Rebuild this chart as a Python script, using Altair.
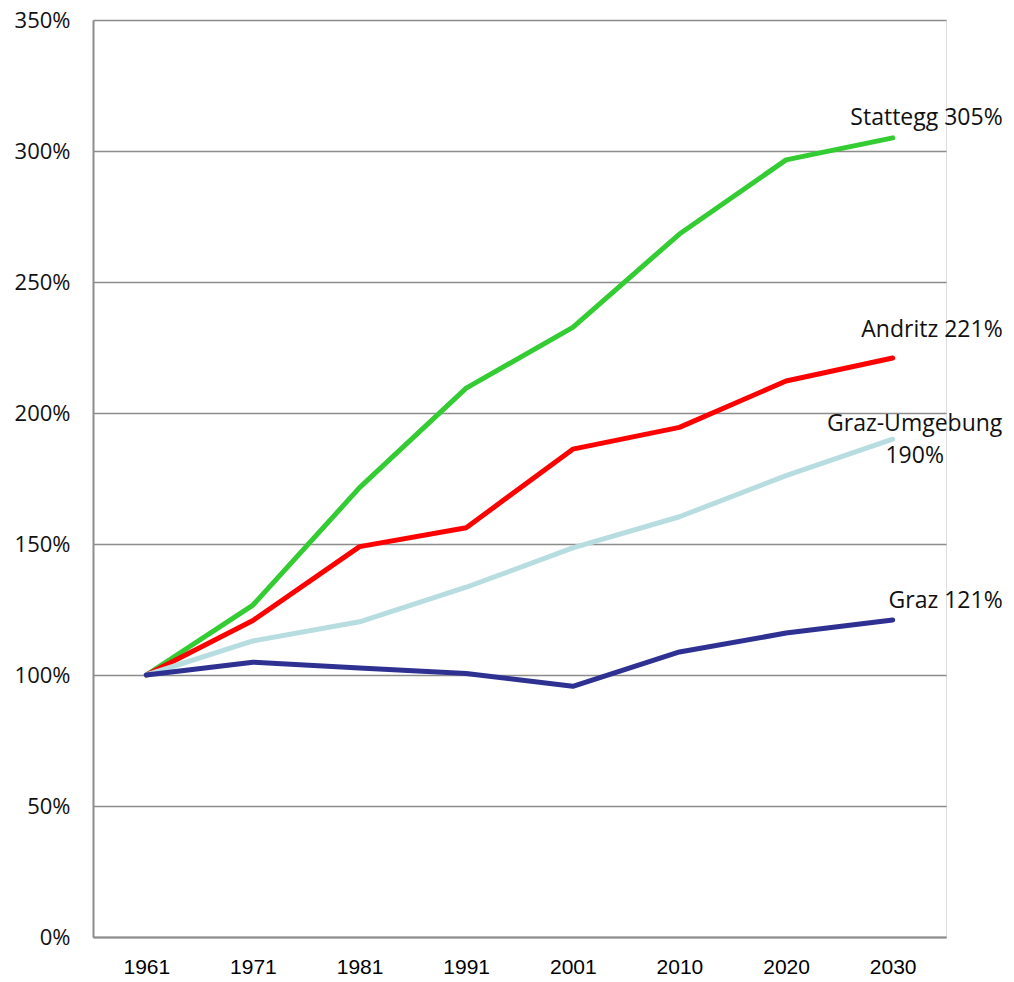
import altair as alt
import pandas as pd

years = ["1961", "1971", "1981", "1991", "2001", "2010", "2020", "2030"]
series_names = ["Stattegg", "Andritz", "Graz-Umgebung", "Graz"]
stattegg = [100, 126.7, 171.5, 209.5, 232.7, 268.3, 296.6, 305]
andritz = [100, 120.8, 149, 156.2, 186.2, 194.5, 212.2, 221]
graz_umg = [100, 113, 120.3, 133.5, 148.5, 160.4, 176.1, 190]
graz = [100, 104.9, 102.7, 100.6, 95.7, 108.8, 116, 121]
colors = ["#33CC33", "#FF0000", "#B7DDE0", "#2E3192"]

end_labels = ["Stattegg 305%", "Andritz 221%", "Graz-Umgebung\n190%", "Graz 121%"]

rows = []
for name, vals in zip(series_names, [stattegg, andritz, graz_umg, graz]):
    for y, v in zip(years, vals):
        rows.append({"year": y, "value": v, "series": name})
df = pd.DataFrame(rows)

lab = pd.DataFrame({
    "year": ["2030"] * 4,
    "value": [stattegg[-1], andritz[-1], graz_umg[-1], graz[-1]],
    "series": series_names,
    "label": end_labels,
})

x_enc = alt.X("year:O", sort=years,
              scale=alt.Scale(type="point", padding=0.5),
              axis=alt.Axis(title=None, labelAngle=0, ticks=False, domain=True,
                            domainColor="#8c8c8c", domainWidth=2,
                            labelFont="Liberation Sans", labelFontSize=21,
                            labelColor="#000000", labelPadding=19, grid=False))
y_enc = alt.Y("value:Q",
              scale=alt.Scale(domain=[0, 350], nice=False),
              axis=alt.Axis(title=None, values=[0, 50, 100, 150, 200, 250, 300, 350],
                            labelExpr="datum.value + '%'", ticks=False,
                            domain=True, domainColor="#8c8c8c", domainWidth=2,
                            grid=True, gridColor="#8c8c8c", gridWidth=1.5,
                            labelFont="Open Sans", labelFontSize=22,
                            labelColor="#111111", labelPadding=23))

color_scale = alt.Scale(domain=series_names, range=colors)

lines = alt.Chart(df).mark_line(strokeWidth=5, strokeCap="round", strokeJoin="round").encode(
    x=x_enc, y=y_enc,
    color=alt.Color("series:N", scale=color_scale, legend=None),
)

def txt(name, dx, dy, align):
    return alt.Chart(lab[lab.series == name]).mark_text(
        align=align, baseline="middle", dx=dx, dy=dy, font="Open Sans",
        fontSize=23, color="#111111", lineBreak="\n", lineHeight=32
    ).encode(x=alt.X("year:O", sort=years), y="value:Q", text="label:N")

texts = (txt("Stattegg", 110, -20, "right") + txt("Andritz", 110, -28, "right")
         + txt("Graz-Umgebung", 22, -15, "center") + txt("Graz", 110, -19, "right"))

chart = alt.layer(lines, texts).properties(
    width=853, height=917,
    autosize=alt.AutoSizeParams(type="none"),
    padding={"left": 85, "top": 12, "right": 60, "bottom": 42},
).configure_view(stroke=None).configure(background="white")

chart.save("out.html", embed_options={"renderer": "svg", "actions": False})
